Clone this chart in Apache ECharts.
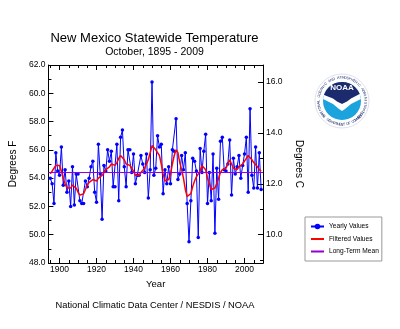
<!DOCTYPE html>
<html><head><meta charset="utf-8">
<script src="https://cdn.jsdelivr.net/npm/echarts@6/dist/echarts.min.js"></script>
<style>html,body{margin:0;padding:0;background:#fff}#c{width:400px;height:329px}</style>
</head><body><div id="c"></div>
<script>
// ---- data ----
const startYear = 1895;
const yearlyValues = [
54.0,53.6,52.2,55.8,54.5,54.2,56.2,53.5,54.6,53.0,
53.8,52.0,54.8,52.1,54.3,54.3,52.4,52.2,52.2,53.8,
53.4,54.0,54.8,55.2,53.0,52.3,56.4,54.3,51.1,54.9,
54.5,56.0,55.2,55.9,53.4,53.4,56.4,52.4,56.9,57.4,
54.8,53.4,56.0,56.0,54.4,55.7,53.6,54.2,54.2,55.6,
55.0,54.4,55.7,52.6,54.6,60.8,54.2,54.7,57.0,56.2,
56.4,52.9,54.6,53.6,54.8,53.6,56.0,55.9,58.2,53.9,
54.3,55.6,54.6,55.8,52.2,49.5,52.4,55.4,55.2,54.5,
49.8,56.1,54.4,55.9,57.1,52.2,54.4,52.4,55.7,50.1,
54.7,52.5,56.6,56.9,54.6,54.5,55.0,56.7,52.8,55.4,
54.3,54.8,55.6,54.0,54.9,55.7,56.9,53.0,58.9,54.2,
53.3,56.2,53.3,55.8,53.2
];
const filteredValues = [
54.3,54.5,54.7,54.9,55.0,54.9,54.5,54.0,53.6,53.3,
53.2,53.3,53.5,53.5,53.3,53.0,52.8,52.7,52.9,53.2,
53.5,53.7,53.8,53.9,53.9,53.8,54.0,54.1,54.2,54.4,
54.6,54.6,54.8,55.0,55.0,54.9,55.1,55.4,55.6,55.6,
55.3,55.0,54.9,54.9,54.7,54.5,54.2,54.1,54.2,54.4,
54.5,54.7,55.0,55.3,55.8,56.3,56.2,56.0,55.9,55.6,
55.0,54.3,53.8,53.7,53.9,54.3,55.0,55.6,56.0,55.8,
55.1,54.6,54.0,53.2,52.7,52.6,52.9,53.4,53.8,54.1,
54.3,54.5,54.9,55.0,54.6,54.0,53.6,53.2,53.1,53.3,
53.6,54.0,54.4,54.6,54.6,54.7,55.0,55.3,55.0,54.7,
54.6,54.6,54.8,54.9,55.0,55.2,55.4,55.6,55.6,55.3,
55.1,55.0,54.8,54.6,54.5
];
const longTermMean = 54.4;
const xLabelYears = [1900,1920,1940,1960,1980,2000];
const xMinorYears = [1895,1905,1910,1915,1925,1930,1935,1945,1950,1955,1965,1970,1975,1985,1990,1995,2005,2010];
const celsiusLabels = [10,12,14,16];
const celsiusMinor = [9,11,13,15];

// ---- build ----
const yearly = yearlyValues.map((v,i)=>[startYear+i, v]);
const filtered = filteredValues.map((v,i)=>[startYear+i, v]);
const c2f = c => c*9/5+32;
const font = 'Liberation Sans, Arial, Helvetica, sans-serif';

const chart = echarts.init(document.getElementById('c'), null, {renderer:'canvas'});
const axLine = {show:true, lineStyle:{color:'#000', width:1}};
function xAx(pos, vals, len, labels){
  return {type:'value', position:pos, min:1894, max:2010, splitLine:{show:false},
    axisLine: axLine,
    axisTick:{show:true, inside:true, length:len, customValues:vals, lineStyle:{color:'#000'}},
    axisLabel: labels ? {show:true, customValues:vals, fontSize:8.5, color:'#000', margin:2, fontFamily:font, formatter:v=>String(v)} : {show:false},
    name: labels ? 'Year' : '', nameLocation:'middle', nameGap:12,
    nameTextStyle:{fontSize:9.5, color:'#000', fontFamily:font}};
}

// NOAA logo
const LX=342, LY=101, R=19, RR=23.5;
const logo = [];
logo.push({type:'circle', shape:{cx:LX, cy:LY, r:27}, style:{fill:'#fff', stroke:'#c8cde0', lineWidth:0.6}});
logo.push({type:'circle', shape:{cx:LX, cy:LY, r:R}, style:{fill:'#1aa3dc'}});
const navyPts = [];
for (let a=-161.6; a<=-21.6; a+=5){ const r=a*Math.PI/180; navyPts.push([LX+R*Math.cos(r), LY+R*Math.sin(r)]); }
navyPts.push([LX+R*Math.cos(-21.6*Math.PI/180), LY+R*Math.sin(-21.6*Math.PI/180)]);
navyPts.push([LX+5,LY+1],[LX,LY+3],[LX-5,LY+1]);
logo.push({type:'polygon', shape:{points:navyPts}, style:{fill:'#1c2a6e'}});
logo.push({type:'polygon', shape:{points:[[324,95],[333,98.5],[337,101.5],[342,104],[347,101.5],[351,98.5],[359.7,94],[360.9,99],[351,104],[345,109],[342,111],[339,109],[333,104],[323.1,99]]}, style:{fill:'#fff'}});
logo.push({type:'text', x:LX, y:88, style:{text:'NOAA', fill:'#fff', font:'bold 8px '+font, align:'center', verticalAlign:'middle'}});
const topTxt = 'NATIONAL OCEANIC AND ATMOSPHERIC ADMINISTRATION';
for (let i=0;i<topTxt.length;i++){
  const th = (140 + i*(265/(topTxt.length-1)))*Math.PI/180;
  logo.push({type:'text', x:LX+RR*Math.cos(th), y:LY+RR*Math.sin(th), rotation:-(th+Math.PI/2),
    style:{text:topTxt[i], fill:'#1c2a6e', font:'3.6px '+font, align:'center', verticalAlign:'middle'}});
}
const botTxt = 'U.S. DEPARTMENT OF COMMERCE';
for (let i=0;i<botTxt.length;i++){
  const th = (150 - i*(120/(botTxt.length-1)))*Math.PI/180;
  logo.push({type:'text', x:LX+RR*Math.cos(th), y:LY+RR*Math.sin(th), rotation:-(th-Math.PI/2),
    style:{text:botTxt[i], fill:'#1c2a6e', font:'3.6px '+font, align:'center', verticalAlign:'middle'}});
}

chart.setOption({
  animation:false,
  backgroundColor:'#fff',
  textStyle:{fontFamily:font},
  grid:{left:46, right:137, top:65, bottom:66, containLabel:false},
  xAxis:[
    xAx('bottom', xLabelYears, 5, true),
    xAx('bottom', xMinorYears, 3, false),
    xAx('top', xLabelYears, 5, false),
    xAx('top', xMinorYears, 3, false)
  ],
  yAxis:[
    {type:'value', position:'left', min:48, max:62, interval:2, splitLine:{show:false},
     axisLine:axLine, axisTick:{inside:true, length:5, lineStyle:{color:'#000'}},
     minorTick:{show:true, splitNumber:2, length:3, lineStyle:{color:'#000'}},
     axisLabel:{fontSize:8.5, color:'#000', margin:3, formatter:v=>v.toFixed(1), fontFamily:font},
     name:'Degrees F', nameLocation:'middle', nameGap:22, nameRotate:90,
     nameTextStyle:{fontSize:10, color:'#000', fontFamily:font}},
    {type:'value', position:'right', min:48, max:62, splitLine:{show:false},
     axisLine:axLine,
     axisTick:{inside:true, length:5, customValues:celsiusLabels.map(c2f), lineStyle:{color:'#000'}},
     axisLabel:{fontSize:8.5, color:'#000', margin:3, customValues:celsiusLabels.map(c2f),
       formatter:v=>((v-32)*5/9).toFixed(1), fontFamily:font},
     name:'Degrees C', nameLocation:'middle', nameGap:22, nameRotate:-90,
     nameTextStyle:{fontSize:10, color:'#000', fontFamily:font}},
    {type:'value', position:'right', min:48, max:62, splitLine:{show:false},
     axisLine:{show:false},
     axisTick:{inside:true, length:3, customValues:celsiusMinor.map(c2f), lineStyle:{color:'#000'}},
     axisLabel:{show:false}}
  ],
  legend:{left:305, top:217, orient:'vertical', padding:[6,3,6,5], itemGap:5.5,
    itemWidth:13, itemHeight:7, itemTextGap:4, borderColor:'#999', borderWidth:1, backgroundColor:'#fff',
    textStyle:{fontSize:6.6, color:'#000', fontFamily:font},
    data:[
      {name:'Yearly Values'},
      {name:'Filtered Values', itemStyle:{opacity:0}},
      {name:'Long-Term Mean', itemStyle:{opacity:0}}
    ]},
  series:[
    {name:'Yearly Values', type:'line', data:yearly, xAxisIndex:0, yAxisIndex:0,
     symbol:'circle', symbolSize:3.5, showSymbol:true,
     lineStyle:{color:'#0000ff', width:1}, itemStyle:{color:'#0000ff'}, z:2},
    {name:'Long-Term Mean', type:'line', data:[], xAxisIndex:0, yAxisIndex:0,
     lineStyle:{color:'#9400d3', width:1.2}, itemStyle:{color:'#9400d3'}, symbol:'none', z:3,
     markLine:{silent:true, symbol:'none', label:{show:false},
       lineStyle:{color:'#9400d3', width:1.2, type:'solid'}, data:[{yAxis:longTermMean}]}},
    {name:'Filtered Values', type:'line', data:filtered, xAxisIndex:0, yAxisIndex:0,
     symbol:'none', smooth:false, lineStyle:{color:'#ff0000', width:1.5}, itemStyle:{color:'#ff0000'}, z:4}
  ],
  graphic:[
    {type:'text', x:154.5, y:38, style:{text:'New Mexico Statewide Temperature', fill:'#000', font:'13px '+font, align:'center', verticalAlign:'middle'}},
    {type:'text', x:154.5, y:52.5, style:{text:'October, 1895 - 2009', fill:'#000', font:'10.5px '+font, align:'center', verticalAlign:'middle'}},
    {type:'text', x:155, y:305, style:{text:'National Climatic Data Center / NESDIS / NOAA', fill:'#000', font:'9.3px '+font, align:'center', verticalAlign:'middle'}},
    {type:'group', children:logo}
  ]
});
</script></body></html>
